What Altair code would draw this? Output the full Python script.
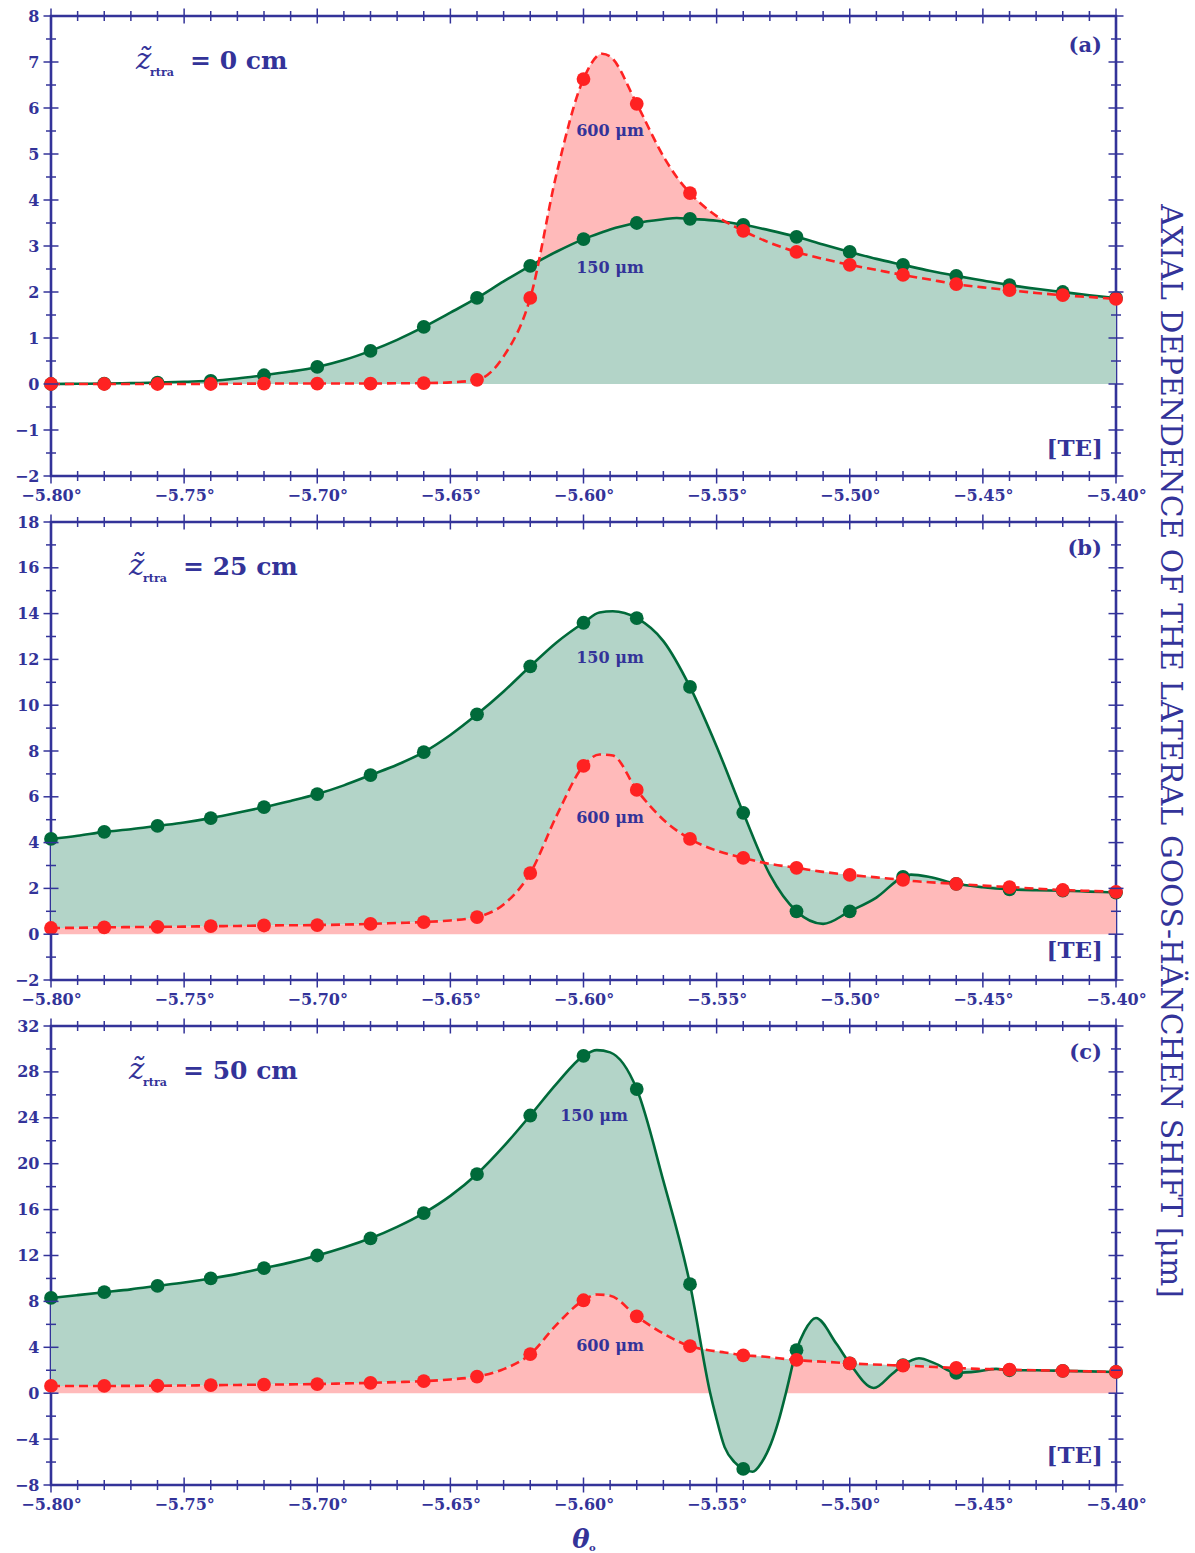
import altair as alt
import pandas as pd
import numpy as np

BLUE = "#333399"
GREEN = "#006a3a"
GREEN_FILL = "#b3d4c8"
RED = "#ff2222"
RED_FILL = "#ffbaba"
SERIF = "DejaVu Serif"
W = 1065

# sampled angles (dots)
dot_x = [-5.80, -5.78, -5.76, -5.74, -5.72, -5.70, -5.68, -5.66, -5.64, -5.62, -5.60,
         -5.58, -5.56, -5.54, -5.52, -5.50, -5.48, -5.46, -5.44, -5.42, -5.40]

# ---- panel (a): z = 0 cm
a_green = [0.0, 0.01, 0.03, 0.07, 0.19, 0.37, 0.72, 1.24, 1.87, 2.57, 3.15,
           3.50, 3.59, 3.46, 3.20, 2.87, 2.59, 2.35, 2.15, 2.00, 1.87]
a_red = [0.0, 0.0, 0.0, 0.0, 0.01, 0.01, 0.01, 0.02, 0.09, 1.87, 6.63,
         6.09, 4.15, 3.33, 2.87, 2.59, 2.37, 2.17, 2.04, 1.93, 1.85]
a_mid_x = [-5.79, -5.77, -5.75, -5.73, -5.71, -5.69, -5.67, -5.65, -5.63, -5.61, -5.593,
           -5.59, -5.57, -5.565, -5.55, -5.53, -5.51, -5.49, -5.47, -5.45, -5.43, -5.41]
a_mid_green = [0.005, 0.02, 0.05, 0.12, 0.27, 0.52, 0.96, 1.55, 2.23, 2.88, 3.30,
               3.36, 3.58, 3.61, 3.55, 3.34, 3.03, 2.72, 2.46, 2.25, 2.07, 1.93]
a_mid_red = [0.0, 0.0, 0.0, 0.005, 0.01, 0.01, 0.015, 0.035, 0.6, 4.6, 7.18,
             7.12, 4.95, 4.5, 3.65, 3.07, 2.72, 2.48, 2.27, 2.10, 1.98, 1.89]

# ---- panel (b): z = 25 cm
b_green = [4.16, 4.47, 4.73, 5.07, 5.55, 6.12, 6.95, 7.95, 9.6, 11.7, 13.6,
           13.8, 10.8, 5.3, 1.0, 1.0, 2.5, 2.2, 1.96, 1.9, 1.82]
b_red = [0.27, 0.3, 0.32, 0.35, 0.38, 0.4, 0.45, 0.53, 0.75, 2.67, 7.35,
         6.3, 4.16, 3.33, 2.9, 2.59, 2.37, 2.2, 2.06, 1.93, 1.85]
b_mid_x = [-5.79, -5.77, -5.75, -5.73, -5.71, -5.69, -5.67, -5.65, -5.63, -5.61, -5.594,
           -5.589, -5.57, -5.55, -5.53, -5.51, -5.49, -5.477, -5.47, -5.45, -5.43, -5.41]
b_mid_green = [4.3, 4.58, 4.88, 5.3, 5.82, 6.5, 7.4, 8.7, 10.6, 12.75, 14.05,
               14.1, 12.8, 8.2, 2.6, 0.45, 1.6, 2.6, 2.5, 2.05, 1.92, 1.86]
b_mid_red = [0.28, 0.31, 0.33, 0.36, 0.39, 0.42, 0.49, 0.6, 1.3, 5.2, 7.85,
             7.8, 5.0, 3.65, 3.07, 2.72, 2.48, 2.33, 2.27, 2.12, 1.99, 1.89]

# ---- panel (c): z = 50 cm
c_green = [8.3, 8.8, 9.35, 10.0, 10.9, 12.0, 13.5, 15.7, 19.1, 24.2, 29.4,
           26.5, 9.5, -6.6, 3.75, 2.6, 2.45, 1.77, 2.0, 1.95, 1.85]
c_red = [0.63, 0.63, 0.65, 0.7, 0.75, 0.8, 0.9, 1.05, 1.45, 3.4, 8.1,
         6.7, 4.1, 3.3, 2.9, 2.6, 2.4, 2.2, 2.05, 1.95, 1.85]
c_mid_x = [-5.79, -5.77, -5.75, -5.73, -5.71, -5.69, -5.67, -5.65, -5.63, -5.61, -5.595,
           -5.59, -5.57, -5.5524, -5.5503, -5.547, -5.5433, -5.5365, -5.533, -5.5296,
           -5.5266, -5.524, -5.517, -5.5127, -5.505, -5.491, -5.484, -5.474, -5.468,
           -5.452, -5.445, -5.43, -5.41]
c_mid_green = [8.55, 9.05, 9.65, 10.4, 11.4, 12.7, 14.5, 17.2, 21.5, 27.0, 29.9,
               29.7, 18.5, 0.0, -2.0, -4.7, -6.0, -6.85, -6.0, -4.4,
               -2.3, 0.0, 5.4, 6.55, 4.3, 0.45, 1.7, 3.05, 2.6,
               1.9, 2.12, 2.0, 1.9]
c_mid_red = [0.63, 0.64, 0.67, 0.72, 0.77, 0.85, 0.97, 1.2, 2.1, 6.0, 8.6,
             8.5, 5.2, 3.72, 3.65, 3.55, 3.42, 3.25, 3.2, 3.12,
             3.04, 2.98, 2.84, 2.78, 2.68, 2.5, 2.44, 2.35, 2.28,
             2.12, 2.08, 2.0, 1.9]

x_major = [round(-5.80 + 0.05 * i, 2) for i in range(9)]
x_minor = [round(-5.80 + 0.01 * i, 2) for i in range(41) if i % 5 != 0]

xs = alt.Scale(domain=[-5.80, -5.40], nice=False, zero=False)
xaxis = alt.Axis(values=x_major, labelExpr="format(datum.value, '.2f') + '°'", title=None,
                 ticks=False, domain=False, grid=False, labelFlush=False, labelOverlap=False,
                 labelPadding=11)
X = alt.X("x:Q", scale=xs, axis=xaxis)


def txt(s, x, y, size, weight="bold", style="normal", align="left", baseline="alphabetic", angle=0):
    return alt.Chart(pd.DataFrame({"a": [0]})).mark_text(
        text=s, fontSize=size, fontWeight=weight, fontStyle=style, align=align,
        baseline=baseline, angle=angle, font=SERIF, color=BLUE
    ).encode(x=alt.value(x), y=alt.value(y))


def panel(dg, dr, mx, mg, mr, ydom, ymaj_step, ymin_step, H, green_on_base, annotations):
    ys = alt.Scale(domain=ydom, nice=False, zero=False)
    ymaj = list(range(ydom[0], ydom[1] + 1, ymaj_step))
    ymin = [float(v) for v in np.arange(ydom[0], ydom[1] + 1e-9, ymin_step)
            if min(abs(v - m) for m in ymaj) > 1e-6]
    yaxis = alt.Axis(values=ymaj, format="d", title=None, ticks=False, domain=False,
                     grid=False, labelPadding=12)

    def Y(f):
        return alt.Y(f, scale=ys, axis=yaxis)

    dots = pd.DataFrame({"x": dot_x, "g": dg, "r": dr})
    curve = pd.concat([dots, pd.DataFrame({"x": mx, "g": mg, "r": mr})]).sort_values("x")
    base = alt.Chart(curve)
    if green_on_base:
        pink = base.mark_area(color=RED_FILL, opacity=1, interpolate="monotone").encode(
            X, Y("r:Q"), y2="g:Q")
        green = base.mark_area(color=GREEN_FILL, opacity=1, interpolate="monotone").encode(
            X, Y("g:Q"), y2=alt.datum(0))
    else:
        pink = base.mark_area(color=RED_FILL, opacity=1, interpolate="monotone").encode(
            X, Y("r:Q"), y2=alt.datum(0))
        green = base.mark_area(color=GREEN_FILL, opacity=1, interpolate="monotone").encode(
            X, Y("g:Q"), y2="r:Q")
    gline = base.mark_line(color=GREEN, strokeWidth=2.6, interpolate="monotone").encode(X, Y("g:Q"))
    rline = base.mark_line(color=RED, strokeWidth=2.6, strokeDash=[9, 5],
                           interpolate="monotone").encode(X, Y("r:Q"))
    gdots = alt.Chart(dots).mark_circle(size=190, color=GREEN, opacity=1).encode(X, Y("g:Q"))
    rdots = alt.Chart(dots).mark_circle(size=190, color=RED, opacity=1).encode(X, Y("r:Q"))

    def xt(vals, yv, size):
        return alt.Chart(pd.DataFrame({"x": vals})).mark_tick(
            orient="vertical", size=size, thickness=1.5, color=BLUE, opacity=1
        ).encode(X, y=alt.value(yv))

    def yt(vals, xv, size):
        return alt.Chart(pd.DataFrame({"y": vals})).mark_tick(
            orient="horizontal", size=size, thickness=1.5, color=BLUE, opacity=1
        ).encode(Y("y:Q"), x=alt.value(xv))

    ticks = [xt(x_major, 0, 15), xt(x_minor, 0, 10), xt(x_major, H, 15), xt(x_minor, H, 10),
             yt(ymaj, 0, 15), yt(ymin, 0, 10), yt(ymaj, W, 15), yt(ymin, W, 10)]
    layers = [pink, green, gline, rline, gdots, rdots] + ticks + annotations
    return alt.layer(*layers).properties(width=W, height=H)


def zlabel(zx, value):
    return [txt("z\u0303", zx, 53, 29, weight="normal", style="italic"),
            txt("rtra", zx + 14, 60, 11),
            txt("= " + value + " cm", zx + 54, 53, 25)]


Ha, Hb, Hc = 460, 458, 459

ann_a = zlabel(85, "0") + [
    txt("600 μm", 559, 115, 16, align="center", baseline="middle"),
    txt("150 μm", 559, 252, 16, align="center", baseline="middle"),
    txt("(a)", 1051, 30, 21, align="right", baseline="middle"),
    txt("[TE]", 1052, Ha - 27, 23, align="right", baseline="middle"),
]
ann_b = zlabel(78, "25") + [
    txt("150 μm", 559, 136, 16, align="center", baseline="middle"),
    txt("600 μm", 559, 296, 16, align="center", baseline="middle"),
    txt("(b)", 1051, 27, 21, align="right", baseline="middle"),
    txt("[TE]", 1052, Hb - 29, 23, align="right", baseline="middle"),
    txt("AXIAL DEPENDENCE OF THE LATERAL GOOS-HÄNCHEN SHIFT [μm]", W + 54, Hb / 2, 29.8,
        weight="normal", align="center", baseline="middle", angle=90),
]
ann_c = zlabel(78, "50") + [
    txt("150 μm", 543, 90, 16, align="center", baseline="middle"),
    txt("600 μm", 559, 320, 16, align="center", baseline="middle"),
    txt("(c)", 1051, 27, 21, align="right", baseline="middle"),
    txt("[TE]", 1052, Hc - 29, 23, align="right", baseline="middle"),
    txt("θ", 530, Hc + 63, 26, style="italic", align="center"),
    txt("o", 538, Hc + 66, 10, align="left"),
]

pa = panel(a_green, a_red, a_mid_x, a_mid_green, a_mid_red, [-2, 8], 1, 0.5, Ha, True, ann_a)
pb = panel(b_green, b_red, b_mid_x, b_mid_green, b_mid_red, [-2, 18], 2, 1, Hb, False, ann_b)
pc = panel(c_green, c_red, c_mid_x, c_mid_green, c_mid_red, [-8, 32], 4, 2, Hc, False, ann_c)

chart = alt.vconcat(pa, pb, pc, spacing=46, bounds="flush").configure_view(
    stroke=BLUE, strokeWidth=2.6
).configure_axis(
    labelFont=SERIF, labelFontSize=16, labelFontWeight="bold", labelColor=BLUE
).properties(
    padding={"left": 13, "top": 6, "right": 5, "bottom": 5}, background="white"
)

chart.save("out.html", embed_options={"renderer": "svg", "actions": False})
